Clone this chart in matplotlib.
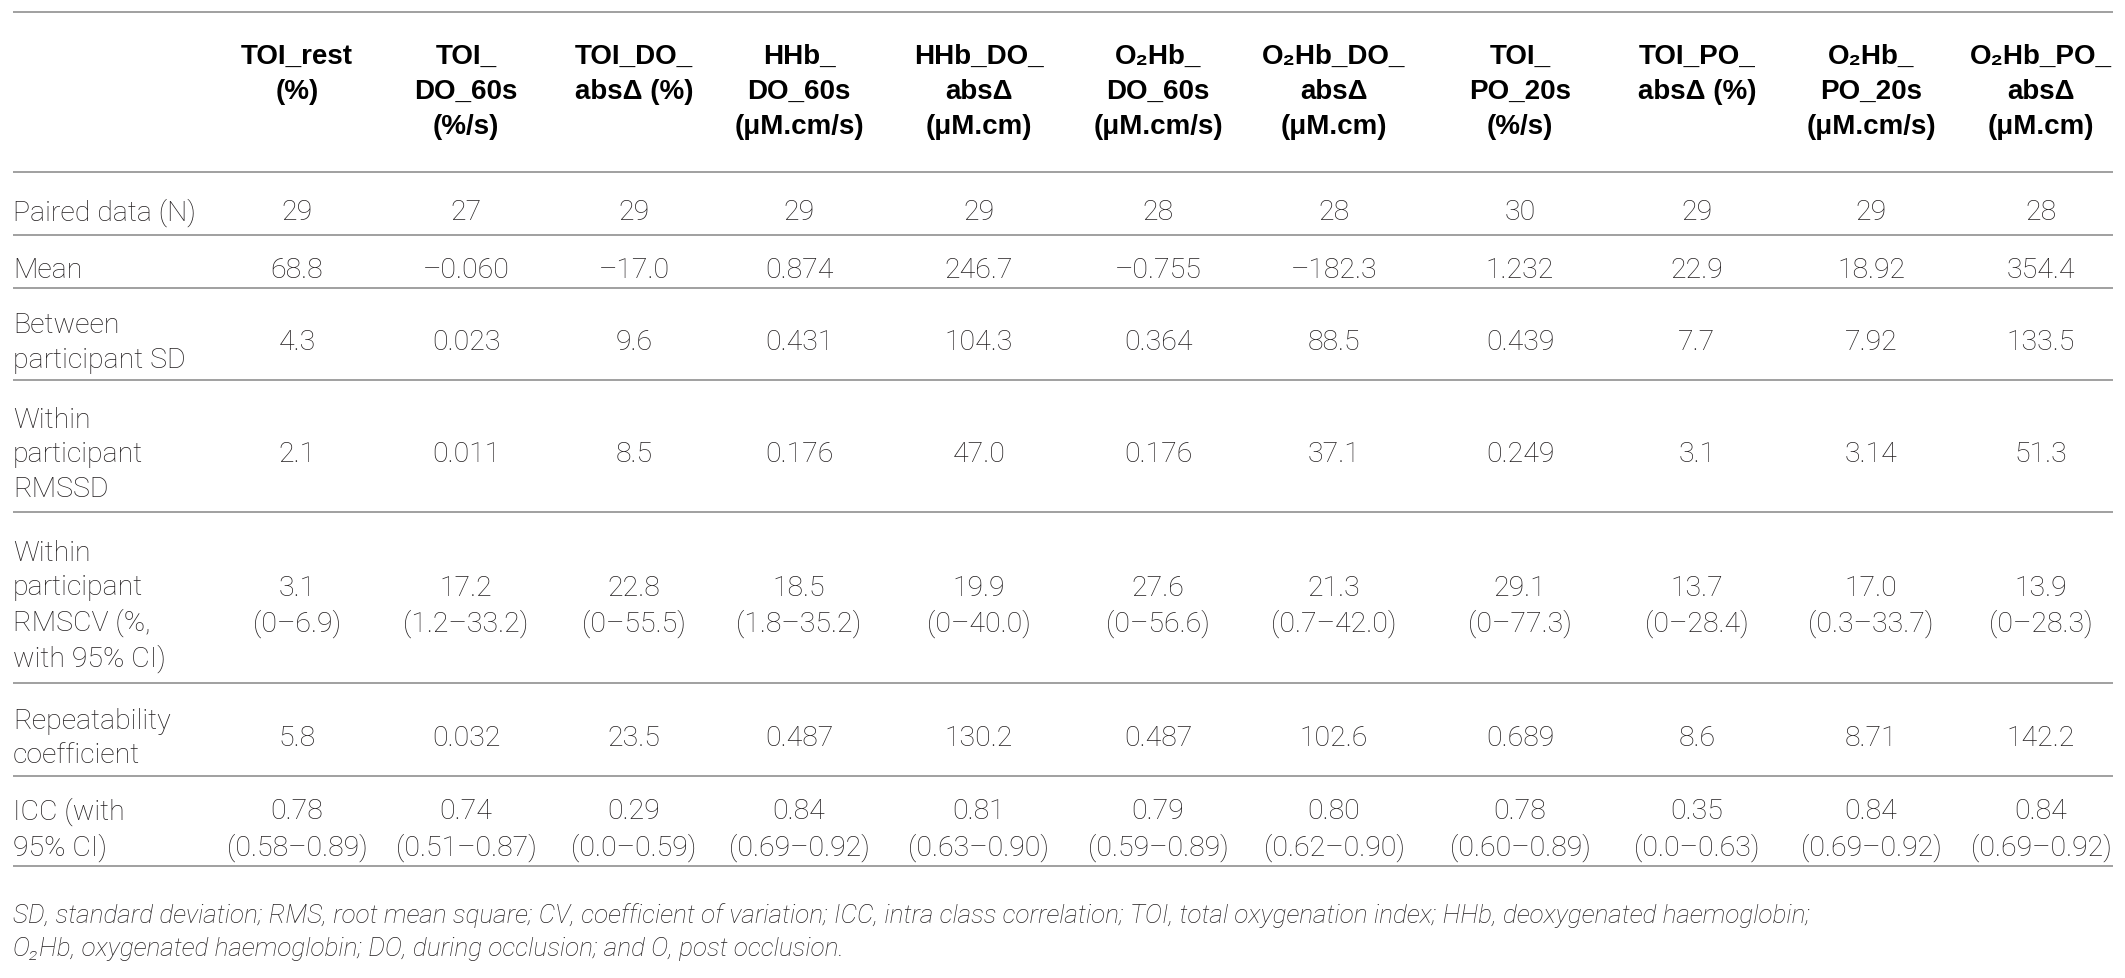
import matplotlib
matplotlib.use("Agg")
import matplotlib.pyplot as plt

plt.rcParams['font.family'] = ['Roboto', 'Liberation Sans', 'DejaVu Sans']

# table content
col_headers = ['TOI_rest\n(%)', 'TOI_\nDO_60s\n(%/s)', 'TOI_DO_\nabsΔ (%)',
               'HHb_\nDO_60s\n(μM.cm/s)', 'HHb_DO_\nabsΔ\n(μM.cm)',
               'O₂Hb_\nDO_60s\n(μM.cm/s)', 'O₂Hb_DO_\nabsΔ\n(μM.cm)',
               'TOI_\nPO_20s\n(%/s)', 'TOI_PO_\nabsΔ (%)',
               'O₂Hb_\nPO_20s\n(μM.cm/s)', 'O₂Hb_PO_\nabsΔ\n(μM.cm)']
row_labels = ['Paired data (N)', 'Mean', 'Between\nparticipant SD',
              'Within\nparticipant\nRMSSD',
              'Within\nparticipant\nRMSCV (%,\nwith 95% CI)',
              'Repeatability\ncoefficient', 'ICC (with\n95% CI)']

paired_n = ['29', '27', '29', '29', '29', '28', '28', '30', '29', '29', '28']
mean = ['68.8', '–0.060', '–17.0', '0.874', '246.7', '–0.755', '–182.3',
        '1.232', '22.9', '18.92', '354.4']
between_sd = ['4.3', '0.023', '9.6', '0.431', '104.3', '0.364', '88.5',
              '0.439', '7.7', '7.92', '133.5']
within_rmssd = ['2.1', '0.011', '8.5', '0.176', '47.0', '0.176', '37.1',
                '0.249', '3.1', '3.14', '51.3']
rmscv = ['3.1', '17.2', '22.8', '18.5', '19.9', '27.6', '21.3', '29.1',
         '13.7', '17.0', '13.9']
rmscv_ci = ['(0–6.9)', '(1.2–33.2)', '(0–55.5)', '(1.8–35.2)', '(0–40.0)',
            '(0–56.6)', '(0.7–42.0)', '(0–77.3)', '(0–28.4)', '(0.3–33.7)',
            '(0–28.3)']
repeat_coef = ['5.8', '0.032', '23.5', '0.487', '130.2', '0.487', '102.6',
               '0.689', '8.6', '8.71', '142.2']
icc = ['0.78', '0.74', '0.29', '0.84', '0.81', '0.79', '0.80', '0.78',
       '0.35', '0.84', '0.84']
icc_ci = ['(0.58–0.89)', '(0.51–0.87)', '(0.0–0.59)', '(0.69–0.92)',
          '(0.63–0.90)', '(0.59–0.89)', '(0.62–0.90)', '(0.60–0.89)',
          '(0.0–0.63)', '(0.69–0.92)', '(0.69–0.92)']

footnote = ('SD, standard deviation; RMS, root mean square; CV, coefficient of variation; '
            'ICC, intra class correlation; TOI, total oxygenation index; HHb, deoxygenated haemoglobin;\n'
            'O₂Hb, oxygenated haemoglobin; DO, during occlusion; and O, post occlusion.')

rows = [paired_n, mean, between_sd, within_rmssd,
        [a + '\n' + b for a, b in zip(rmscv, rmscv_ci)],
        repeat_coef,
        [a + '\n' + b for a, b in zip(icc, icc_ci)]]

# layout (pixel coords)
W, H = 2125, 979
col_x = [297, 466, 634, 799, 979, 1158, 1334, 1520, 1697, 1871, 2041]
hlines = [13, 173, 236, 289, 381, 513, 684, 777, 867]
x0, x1 = 13, 2113
txt = '#231f20'
fs = 20.5
ls = 1.35

fig = plt.figure(figsize=(W / 100, H / 100), dpi=100)
ax = fig.add_axes([0, 0, 1, 1])
ax.set_xlim(0, W)
ax.set_ylim(H, 0)
ax.axis('off')

for y in hlines:
    ax.plot([x0, x1], [y, y], color='#a0a0a0', lw=1.4, solid_capstyle='butt')

for x, h in zip(col_x, col_headers):
    ax.text(x, 44, h, ha='center', va='top', fontsize=20, fontweight='bold',
            color='black', linespacing=1.46,
            family=['Liberation Sans', 'DejaVu Sans'])

for i, (lab, vals) in enumerate(zip(row_labels, rows)):
    yc = (hlines[i + 1] + hlines[i + 2]) / 2 + 8
    ax.text(x0, yc, lab, ha='left', va='center', fontsize=fs, color=txt,
            fontweight='light', linespacing=ls)
    for x, v in zip(col_x, vals):
        ax.text(x, yc, v, ha='center', va='center', fontsize=fs, color=txt,
                fontweight='light', linespacing=ls)

ax.text(x0, 932, footnote, ha='left', va='center', fontsize=18.8, color=txt,
        style='italic', fontweight='light', linespacing=1.47)

fig.savefig('out.png', dpi=100)
